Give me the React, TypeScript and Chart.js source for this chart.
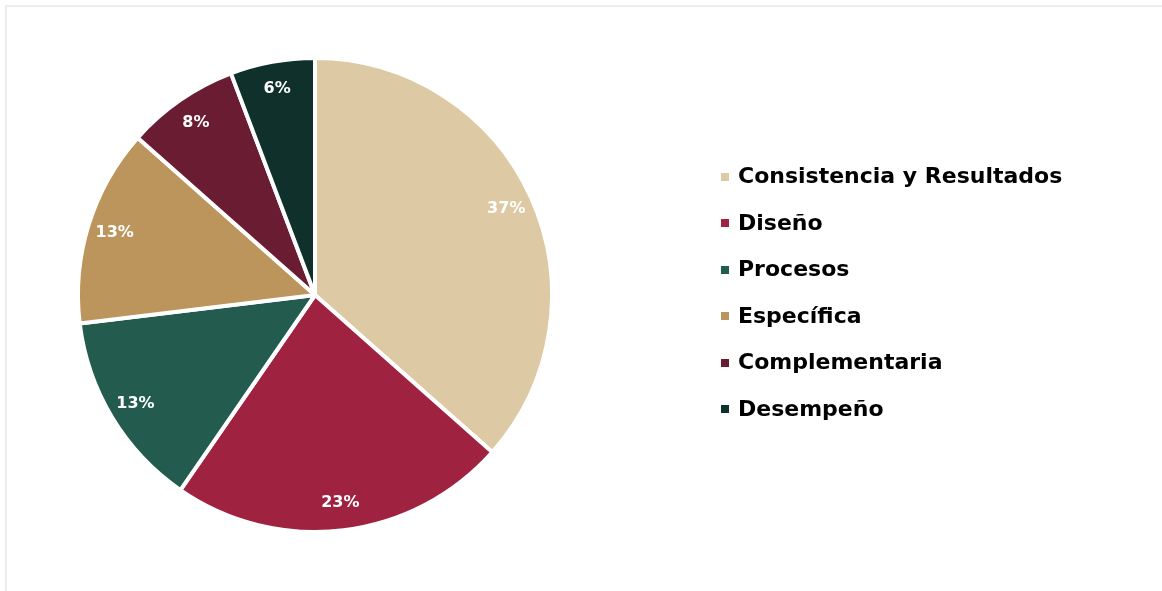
import React, { useEffect, useRef } from "react";
import { Chart, registerables } from "chart.js";

Chart.register(...registerables);

const categories = [
  "Consistencia y Resultados",
  "Diseño",
  "Procesos",
  "Específica",
  "Complementaria",
  "Desempeño",
];
const counts = [19, 12, 7, 7, 4, 3];
const colors = ["#DDC9A3", "#9F2241", "#235B4E", "#BC955C", "#691C32", "#10312B"];

const FONT = "'DejaVu Sans', sans-serif";

const pctLabels = {
  id: "pctLabels",
  afterDatasetsDraw(chart: any) {
    const ctx = chart.ctx;
    const meta = chart.getDatasetMeta(0);
    const data = chart.data.datasets[0].data as number[];
    const total = data.reduce((a, b) => a + b, 0);
    ctx.save();
    ctx.fillStyle = "#ffffff";
    ctx.font = `bold 16px ${FONT}`;
    ctx.textAlign = "center";
    ctx.textBaseline = "middle";
    meta.data.forEach((arc: any, i: number) => {
      const { x, y, startAngle, endAngle, outerRadius } = arc.getProps(
        ["x", "y", "startAngle", "endAngle", "outerRadius"],
        true
      );
      const mid = (startAngle + endAngle) / 2;
      const r = outerRadius * 0.885;
      const label = Math.round((data[i] / total) * 100) + "%";
      ctx.fillText(label, x + Math.cos(mid) * r, y + Math.sin(mid) * r);
    });
    ctx.restore();
  },
};

export default function App() {
  const ref = useRef<HTMLCanvasElement>(null);
  useEffect(() => {
    if (!ref.current) return;
    const chart = new Chart(ref.current, {
      type: "pie",
      data: {
        labels: categories,
        datasets: [
          {
            data: counts,
            backgroundColor: colors,
            borderColor: "#ffffff",
            borderWidth: 4,
          },
        ],
      },
      options: {
        animation: false,
        responsive: false,
        layout: { padding: { left: 76, top: 56, right: 608, bottom: 57 } },
        plugins: {
          legend: { display: false },
          tooltip: { enabled: false },
        },
      },
      plugins: [pctLabels],
    });
    return () => chart.destroy();
  }, []);

  return (
    <div
      style={{
        position: "fixed",
        left: 0,
        top: 0,
        width: 1162,
        height: 591,
        overflow: "hidden",
        background: "#fff",
      }}
    >
      <div
        style={{
          position: "absolute",
          left: 5,
          top: 5,
          width: 1180,
          height: 610,
          border: "2px solid #ececec",
          boxSizing: "border-box",
        }}
      />
      <canvas
        ref={ref}
        width={1162}
        height={591}
        style={{ position: "absolute", left: 0, top: 0 }}
      />
      <div style={{ position: "absolute", left: 721, top: 152.5 }}>
        {categories.map((c, i) => (
          <div
            key={c}
            style={{
              display: "flex",
              alignItems: "center",
              height: 46.5,
              fontFamily: FONT,
              fontWeight: "bold",
              fontSize: 22,
              color: "#000",
              whiteSpace: "nowrap",
            }}
          >
            <span
              style={{
                display: "inline-block",
                width: 8,
                height: 8,
                background: colors[i],
                marginRight: 9,
                marginTop: 2,
              }}
            />
            {c}
          </div>
        ))}
      </div>
    </div>
  );
}
